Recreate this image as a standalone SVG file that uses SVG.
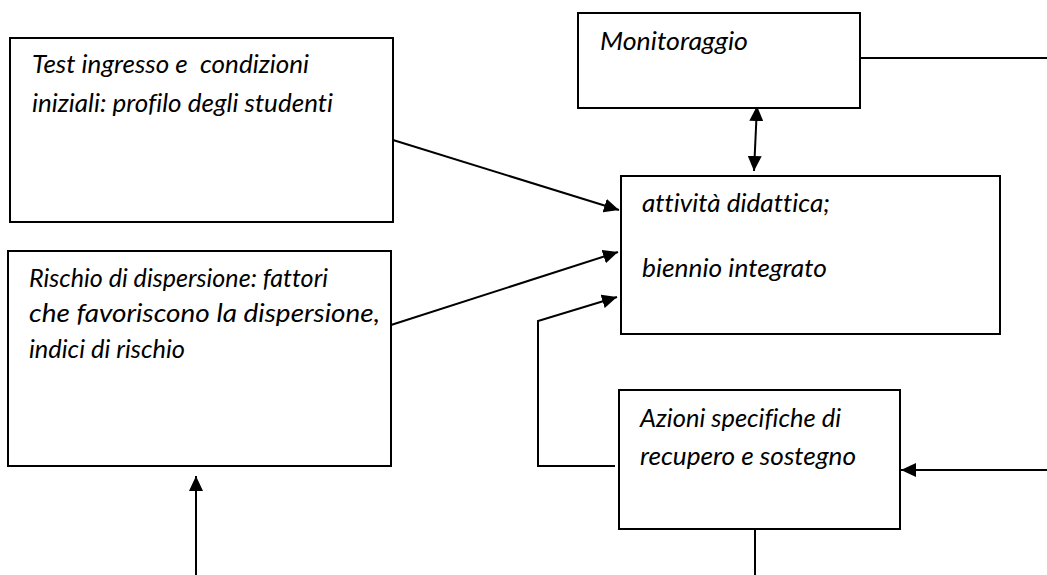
<svg xmlns="http://www.w3.org/2000/svg" width="1047" height="575" viewBox="0 0 1047 575">
<style>
.box{fill:#fff;stroke:#000;stroke-width:2}
.t{font-family:Lato,"Open Sans","Liberation Sans",sans-serif;font-style:italic;font-size:25px;fill:#000;font-variant-ligatures:none;white-space:pre}
.c{fill:none;stroke:#000;stroke-width:2}
</style>
<defs>
<marker id="ah" markerUnits="userSpaceOnUse" markerWidth="15" markerHeight="14" refX="15" refY="7" orient="auto-start-reverse" viewBox="0 0 15 14">
<path d="M0,0 L15,7 L0,14 z" fill="#000"/>
</marker>
</defs>
<rect width="1047" height="575" fill="#fff"/>
<g id="connectors">
<line class="c" x1="393" y1="140" x2="619" y2="210" marker-end="url(#ah)"/>
<line class="c" x1="391" y1="325" x2="618" y2="252" marker-end="url(#ah)"/>
<polyline class="c" points="615,466 538,466 538,321 617,297" marker-end="url(#ah)"/>
<line class="c" x1="757" y1="106" x2="754" y2="171" marker-start="url(#ah)" marker-end="url(#ah)"/>
<line class="c" x1="860" y1="58" x2="1047" y2="58"/>
<line class="c" x1="1047" y1="470" x2="901" y2="470" marker-end="url(#ah)"/>
<line class="c" x1="755" y1="529" x2="755" y2="575"/>
<line class="c" x1="196" y1="575" x2="196" y2="476" marker-end="url(#ah)"/>
</g>
<g id="test">
<rect class="box" x="10" y="38" width="383" height="184"/>
<text class="t" x="32" y="73" xml:space="preserve" textLength="277" lengthAdjust="spacingAndGlyphs">Test ingresso e  condizioni</text>
<text class="t" x="32" y="112" textLength="301" lengthAdjust="spacingAndGlyphs">iniziali: profilo degli studenti</text>
</g>
<g id="rischio">
<rect class="box" x="8" y="251" width="383" height="215"/>
<text class="t" x="29" y="287" textLength="299" lengthAdjust="spacingAndGlyphs">Rischio di dispersione: fattori</text>
<text class="t" x="29" y="322" textLength="351" lengthAdjust="spacingAndGlyphs">che favoriscono la dispersione,</text>
<text class="t" x="29" y="358" textLength="156" lengthAdjust="spacingAndGlyphs">indici di rischio</text>
</g>
<g id="monitoraggio">
<rect class="box" x="578" y="13" width="282" height="95"/>
<text class="t" x="600" y="50" textLength="148" lengthAdjust="spacingAndGlyphs">Monitoraggio</text>
</g>
<g id="attivita">
<rect class="box" x="621" y="176" width="379" height="158"/>
<text class="t" x="642" y="212" textLength="188" lengthAdjust="spacingAndGlyphs">attività didattica;</text>
<text class="t" x="642" y="277" textLength="185" lengthAdjust="spacingAndGlyphs">biennio integrato</text>
</g>
<g id="azioni">
<rect class="box" x="619" y="390" width="281" height="139"/>
<text class="t" x="640" y="427" textLength="201" lengthAdjust="spacingAndGlyphs">Azioni specifiche di</text>
<text class="t" x="640" y="465" textLength="216" lengthAdjust="spacingAndGlyphs">recupero e sostegno</text>
</g>
</svg>
